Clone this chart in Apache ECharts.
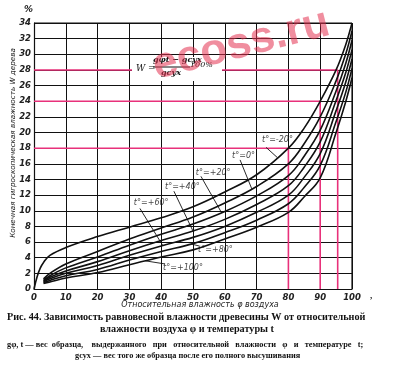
<!DOCTYPE html>
<html>
<head>
<meta charset="utf-8">
<script src="https://cdn.jsdelivr.net/npm/echarts@6/dist/echarts.min.js"></script>
<style>
html, body { margin: 0; padding: 0; background: #fff; }
#main { width: 400px; height: 367px; }
</style>
</head>
<body>
<div id="main"></div>
<script>
// относительная влажность воздуха, %
var phi = [0, 1, 2, 3, 5, 10, 20, 30, 40, 50, 60, 70, 80, 85, 90, 95, 98, 100];
// равновесная влажность древесины W, % (по кривым температуры)
var wM20 = [0, 1.6, 2.7, 3.4, 4.3, 5.3, 6.7, 7.9, 9.1, 10.5, 12.4, 14.6, 18.0, 20.6, 24.0, 28.0, 31.2, 34.0];
var w0   = [null, null, null, 1.3, 2.0, 3.2, 4.8, 6.4, 7.8, 9.2, 11.0, 13.1, 16.0, 18.6, 22.0, 26.6, 30.0, 33.0];
var w20  = [null, null, null, 1.1, 1.7, 2.7, 4.1, 5.6, 7.0, 8.3, 9.9, 11.9, 14.5, 17.0, 20.3, 25.3, 28.8, 31.8];
var w40  = [null, null, null, 1.0, 1.5, 2.3, 3.5, 4.9, 6.2, 7.4, 8.9, 10.8, 13.2, 15.6, 18.8, 24.1, 27.6, 30.6];
var w60  = [null, null, null, 0.9, 1.3, 2.0, 3.0, 4.3, 5.5, 6.6, 8.0, 9.8, 12.0, 14.3, 17.3, 22.8, 26.4, 29.4];
var w80  = [null, null, null, 0.8, 1.1, 1.7, 2.5, 3.7, 4.8, 5.8, 7.2, 8.8, 10.9, 13.0, 15.8, 21.4, 25.1, 28.2];
var w100 = [null, null, null, 0.7, 0.9, 1.4, 2.1, 3.1, 4.1, 5.0, 6.4, 7.9, 9.8, 11.8, 14.2, 20.0, 23.9, 27.0];

var curves = [wM20, w0, w20, w40, w60, w80, w100];
var curveNames = ['t°=-20°', 't°=0°', 't°=+20°', 't°=+40°', 't°=+60°', 't°=+80°', 't°=+100°'];

// подписи кривых: начало текста (φ, W), начало выноски, точка на кривой (φ)
var labelPos   = [[71.7, 19.0], [62.3, 17.0], [50.9, 14.9], [41.2, 13.0], [31.4, 11.0], [51.6, 5.0], [40.6, 2.7]];
var leaderFrom = [[73.0, 18.1], [64.8, 16.5], [52.5, 14.4], [44.0, 12.5], [33.3, 10.3], [51.9, 5.5], [41.2, 3.2]];
var leaderTo   = [76.5, 68.5, 59, 50, 40.5, 49.5, 35];

// примеры отсчёта (розовые линии)
var guidePhi = [95.5, 90, 80];
var guideW = [28, 24, 18];

function pairs(w) {
    var out = [];
    for (var i = 0; i < phi.length; i++) {
        if (w[i] !== null) out.push([phi[i], w[i]]);
    }
    return out;
}

function interp(w, x) {
    for (var i = 1; i < phi.length; i++) {
        if (w[i - 1] !== null && phi[i] >= x) {
            var t = (x - phi[i - 1]) / (phi[i] - phi[i - 1]);
            return w[i - 1] + t * (w[i] - w[i - 1]);
        }
    }
    return null;
}

var myChart = echarts.init(document.getElementById('main'));
var series = [];

guidePhi.forEach(function (p, i) {
    series.push({
        type: 'line',
        data: [[0, guideW[i]], [p, guideW[i]], [p, 0]],
        symbol: 'none',
        lineStyle: { color: '#e8317a', width: 1.6 },
        z: 3
    });
});

curves.forEach(function (w) {
    series.push({
        type: 'line',
        data: pairs(w),
        smooth: 0.4,
        symbol: 'none',
        lineStyle: { color: '#111', width: 1.6 },
        z: 4
    });
});

series.push({
    type: 'lines',
    coordinateSystem: 'cartesian2d',
    data: leaderFrom.map(function (s, i) {
        return { coords: [s, [leaderTo[i], interp(curves[i], leaderTo[i])]] };
    }),
    lineStyle: { color: '#111', width: 0.9, opacity: 1 },
    z: 5
});

series.push({
    type: 'scatter',
    symbolSize: 0,
    data: labelPos.map(function (p, i) { return { value: p, name: curveNames[i] }; }),
    label: {
        show: true,
        position: 'right',
        distance: 0,
        formatter: '{b}',
        fontFamily: 'DejaVu Sans',
        fontStyle: 'italic',
        fontSize: 8,
        color: '#111'
    },
    z: 6
});

var tickFont = { fontFamily: 'DejaVu Sans', fontStyle: 'italic', fontWeight: 'bold', fontSize: 8.5, color: '#222' };

var option = {
    animation: false,
    grid: { left: 34, right: 48, top: 23, bottom: 78 },
    xAxis: {
        type: 'value', min: 0, max: 100, interval: 10,
        axisLine: { lineStyle: { color: '#111', width: 1.2 } },
        axisTick: { show: false },
        axisLabel: Object.assign({ margin: 4 }, tickFont),
        splitLine: { lineStyle: { color: '#111', width: 1 } }
    },
    yAxis: {
        type: 'value', min: 0, max: 34, interval: 2,
        axisLine: { lineStyle: { color: '#111', width: 1.2 } },
        axisTick: { show: false },
        axisLabel: Object.assign({ margin: 3 }, tickFont),
        splitLine: { lineStyle: { color: '#111', width: 1 } }
    },
    series: series,
    graphic: [
        { type: 'line', shape: { x1: 352, y1: 23, x2: 352, y2: 289 }, style: { stroke: '#111', lineWidth: 1.2 }, z: 2 },
        { type: 'line', shape: { x1: 34, y1: 23, x2: 352, y2: 23 }, style: { stroke: '#111', lineWidth: 1.2 }, z: 2 },
        { type: 'text', left: 24, top: 5, style: { text: '%', font: 'italic bold 9px DejaVu Sans', fill: '#222' } },
        // подписи осей
        { type: 'text', x: 13, y: 143, rotation: Math.PI / 2,
          style: { text: 'Конечная гигроскопическая влажность W дерева', font: 'italic 7.2px DejaVu Sans', fill: '#222', align: 'center', verticalAlign: 'middle' } },
        { type: 'text', x: 200, y: 305,
          style: { text: 'Относительная влажность φ воздуха', font: 'italic 8px DejaVu Sans', fill: '#222', align: 'center', verticalAlign: 'middle' } },
        // формула
        { type: 'rect', shape: { x: 132, y: 57, width: 90, height: 24 }, style: { fill: '#fff' }, z: 50 },
        { type: 'text', x: 136, y: 64, style: { text: 'W =', font: 'italic 9px DejaVu Serif', fill: '#111' }, z: 51 },
        { type: 'text', x: 153, y: 56, style: { text: 'gφt − gсух', font: 'italic bold 8px DejaVu Serif', fill: '#111' }, z: 51 },
        { type: 'line', shape: { x1: 153, y1: 67, x2: 190, y2: 67 }, style: { stroke: '#111', lineWidth: 1 }, z: 51 },
        { type: 'text', x: 161, y: 69, style: { text: 'gсух', font: 'italic bold 8px DejaVu Serif', fill: '#111' }, z: 51 },
        { type: 'text', x: 190, y: 61, style: { text: '100%', font: 'italic 8px DejaVu Serif', fill: '#111' }, z: 51 },
        // водяной знак
        { type: 'text', x: 148, y: 46, rotation: 0.25,
          style: { text: 'ecoss.ru', font: 'bold 44px Liberation Sans', fill: 'rgba(228,50,80,0.55)', align: 'left', verticalAlign: 'alphabetic' }, z: 60 },
        // подпись
        { type: 'text', x: 7, y: 312, style: { text: 'Рис. 44. Зависимость равновесной влажности древесины W от относительной', font: 'bold 10.2px Liberation Serif', fill: '#111' } },
        { type: 'text', x: 100, y: 324, style: { text: 'влажности воздуха φ и температуры t', font: 'bold 10.2px Liberation Serif', fill: '#111' } },
        { type: 'text', x: 7, y: 341, style: { text: 'gφ, t — вес  образца,    выдержанного   при   относительной   влажности   φ   и   температуре   t;', font: 'bold 8.3px Liberation Serif', fill: '#111' } },
        { type: 'text', x: 75, y: 352, style: { text: 'gсух — вес того же образца после его полного высушивания', font: 'bold 8.3px Liberation Serif', fill: '#111' } },
        { type: 'text', x: 370, y: 291, style: { text: ',', font: 'bold 9px Liberation Serif', fill: '#111' } }
    ]
};

myChart.setOption(option);

window.addEventListener('resize', function () {
    myChart.resize();
});
</script>
</body>
</html>
